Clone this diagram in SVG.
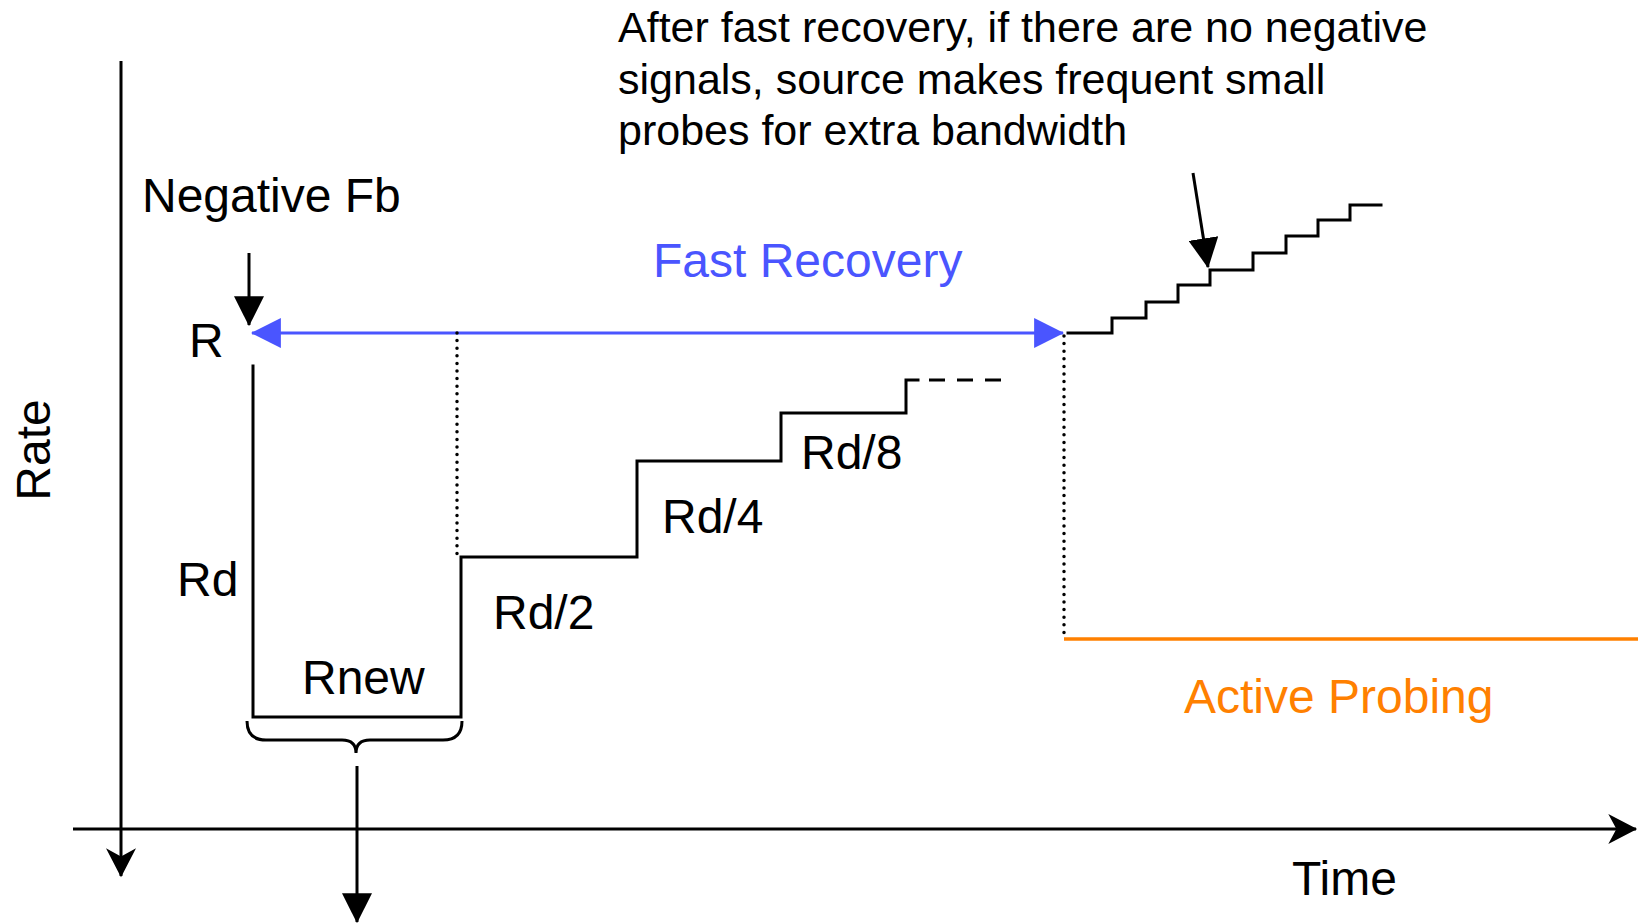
<svg xmlns="http://www.w3.org/2000/svg" width="1638" height="923" viewBox="0 0 1638 923">
<style>
text{font-family:"Liberation Sans",Arial,sans-serif;font-size:48px;fill:#000}
.ann{font-size:43px}
.blue{fill:#4a55ff}
.orange{fill:#ff8000}
.ln{fill:none;stroke:#000;stroke-width:3;stroke-linejoin:miter;stroke-linecap:square}
.dot{fill:none;stroke:#000;stroke-width:3.5;stroke-linecap:round;stroke-dasharray:0 7.6}
</style>
<defs>
<marker id="ah" markerUnits="userSpaceOnUse" markerWidth="30" markerHeight="30" viewBox="0 0 26 26" refX="25" refY="13" orient="auto">
<path d="M0,0 L26,13 L0,26 Z" fill="#000"/>
</marker>
<marker id="ahb" markerUnits="userSpaceOnUse" markerWidth="30" markerHeight="30" viewBox="0 0 26 26" refX="25" refY="13" orient="auto-start-reverse">
<path d="M0,0 L26,13 L0,26 Z" fill="#4a55ff"/>
</marker>
<marker id="ax" markerUnits="userSpaceOnUse" markerWidth="30" markerHeight="30" viewBox="0 0 25 26" refX="24" refY="13" orient="auto">
<path d="M0,0 L25,13 L0,26 L7,13 Z" fill="#000"/>
</marker>
</defs>

<g id="axes">
<line x1="121" y1="61" x2="121" y2="876" stroke="#000" stroke-width="3" marker-end="url(#ax)"/>
<line x1="73" y1="829" x2="1636" y2="829" stroke="#000" stroke-width="3" marker-end="url(#ax)"/>
<text id="rate-label" transform="translate(50,450) rotate(-90)" text-anchor="middle">Rate</text>
<text id="time-label" x="1292" y="895">Time</text>
</g>

<g id="negfb">
<text x="142" y="212">Negative Fb</text>
</g>
<g id="r-label"><text x="189" y="357">R</text></g>

<g id="rate-curve">
<path class="ln" d="M253,366 V717 H461 V557 H637 V461 H781 V413 H906 V380 H918"/>
<path d="M929,380 H945 M957,380 H973 M985,380 H1001" fill="none" stroke="#000" stroke-width="3.2"/>
</g>

<g id="probe-steps">
<path class="ln" d="M1068,333 H1112 V318 H1146 V302 H1178 V285 H1210 V270 H1253 V253 H1286 V236 H1318 V220 H1350 V205 H1381"/>
</g>

<g id="labels">
<text x="177" y="596">Rd</text>
<text x="302" y="694">Rnew</text>
<text x="493" y="629">Rd/2</text>
<text x="662" y="533">Rd/4</text>
<text x="801" y="469">Rd/8</text>
</g>

<g id="fast-recovery">
<text class="blue" x="653" y="277">Fast Recovery</text>
</g>

<g id="active-probing">
<line x1="1064" y1="639" x2="1638" y2="639" stroke="#ff8000" stroke-width="3.5"/>
<text class="orange" x="1184" y="713">Active Probing</text>
</g>

<g id="annotation">
<text class="ann" x="618" y="42">After fast recovery, if there are no negative</text>
<text class="ann" x="618" y="94">signals, source makes frequent small</text>
<text class="ann" x="618" y="145">probes for extra bandwidth</text>
</g>

<g id="brace">
<path d="M247,721 Q247,740 266,740 H342 Q356,740 356,753 Q356,740 370,740 H443 Q462,740 462,721" fill="none" stroke="#000" stroke-width="3"/>
</g>

<g id="connectors">
<line x1="249" y1="253" x2="249" y2="325" stroke="#000" stroke-width="3" marker-end="url(#ah)"/>
<line x1="252" y1="333" x2="1063" y2="333" stroke="#4a55ff" stroke-width="3" marker-start="url(#ahb)" marker-end="url(#ahb)"/>
<line x1="457" y1="333" x2="457" y2="555" class="dot"/>
<line x1="1064" y1="336" x2="1064" y2="634" class="dot"/>
<line x1="357" y1="766" x2="357" y2="922" stroke="#000" stroke-width="3" marker-end="url(#ah)"/>
<line x1="1193" y1="173" x2="1208" y2="267" stroke="#000" stroke-width="3" marker-end="url(#ah)"/>
</g>
</svg>
